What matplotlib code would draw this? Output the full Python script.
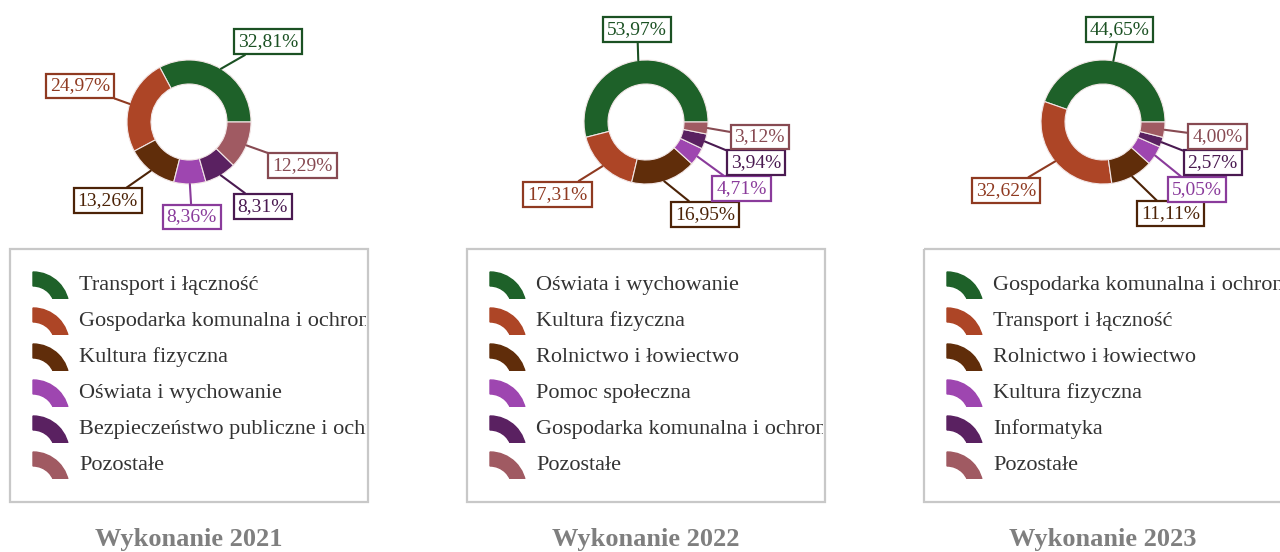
import matplotlib.pyplot as plt
from matplotlib.patches import Rectangle, Wedge
from matplotlib.transforms import Bbox, TransformedBbox
import numpy as np

plt.rcParams['font.family'] = ['Liberation Serif', 'DejaVu Serif']

# wydatki wg działów (udział %), kolejne lata
years = ['2021', '2022', '2023']

labels_2021 = ['Transport i łączność', 'Gospodarka komunalna i ochrona środowiska',
               'Kultura fizyczna', 'Oświata i wychowanie',
               'Bezpieczeństwo publiczne i ochrona przeciwpożarowa', 'Pozostałe']
values_2021 = [32.81, 24.97, 13.26, 8.36, 8.31, 12.29]

labels_2022 = ['Oświata i wychowanie', 'Kultura fizyczna', 'Rolnictwo i łowiectwo',
               'Pomoc społeczna', 'Gospodarka komunalna i ochrona środowiska', 'Pozostałe']
values_2022 = [53.97, 17.31, 16.95, 4.71, 3.94, 3.12]

labels_2023 = ['Gospodarka komunalna i ochrona środowiska', 'Transport i łączność',
               'Rolnictwo i łowiectwo', 'Kultura fizyczna', 'Informatyka', 'Pozostałe']
values_2023 = [44.65, 32.62, 11.11, 5.05, 2.57, 4.00]

colors = ['#1e6129', '#ad4526', '#602d0a', '#9e46b0', '#5a2161', '#a05a62']
dark = ['#1b5123', '#8f3a21', '#4c2307', '#8a3b9b', '#4a1a51', '#874a52']

# przesunięcia etykiet (px) względem zewnętrznej krawędzi wycinka
offsets = [
    [(47, 27), (-50, 18), (-43, -30), (2, -33), (42, -31), (56, -20)],
    [(-1, 31), (-45, -28), (41, -33), (44, -32), (51, -21), (52, -9)],
    [(6, 31), (-49, -29), (38, -37), (42, -34), (51, -20), (53, -7)],
]

W, H = 1280, 552
fig = plt.figure(figsize=(W / 100, H / 100), dpi=100)

# warstwa pomocnicza w pikselach (y w dół)
bg = fig.add_axes([0, 0, 1, 1])
bg.set_xlim(0, W)
bg.set_ylim(H, 0)
bg.axis('off')

all_labels = [labels_2021, labels_2022, labels_2023]
all_values = [values_2021, values_2022, values_2023]

r_out, r_in = 62, 38
cy = 122
for k, (year, labs, vals) in enumerate(zip(years, all_labels, all_values)):
    cx = 189 + 457 * k

    ax = fig.add_axes([(cx - r_out) / W, 1 - (cy + r_out) / H, 2 * r_out / W, 2 * r_out / H])
    wedges, _ = ax.pie(vals, colors=colors, startangle=0, counterclock=True, radius=1,
                       wedgeprops=dict(width=(r_out - r_in) / r_out, edgecolor='#f2e6e6',
                                       linewidth=0.8))
    ax.set_xlim(-1, 1)
    ax.set_ylim(-1, 1)
    ax.axis('off')

    for i, w in enumerate(wedges):
        mid = np.deg2rad((w.theta1 + w.theta2) / 2)
        txt = f'{vals[i]:.2f}%'.replace('.', ',')
        ax.annotate(txt, xy=(np.cos(mid), np.sin(mid)), xytext=offsets[k][i],
                    textcoords='offset pixels', ha='center', va='center',
                    fontsize=14, color=dark[i], annotation_clip=False,
                    bbox=dict(boxstyle='square,pad=0.2', fc='white', ec=dark[i], lw=1.6),
                    arrowprops=dict(arrowstyle='-', color=dark[i], lw=1.5,
                                    shrinkA=0, shrinkB=0))

    # legenda
    left = cx - 179
    frame = Rectangle((left, 249), 358, 253, fill=False, ec='#c8c8c8', lw=1.6)
    bg.add_patch(frame)
    text_clip = TransformedBbox(Bbox.from_extents(left, 250, left + 356, 500), bg.transData)
    for i, name in enumerate(labs):
        yc = 308 + 36 * i
        icon = Wedge((left + 23, yc), 36, 270, 360, width=14, color=colors[i])
        bg.add_patch(icon)
        icon.set_clip_path(Rectangle((left, yc - 40), 60, 31, transform=bg.transData))
        t = bg.text(left + 69, 290 + 36 * i, name, fontsize=16, color='#333333',
                    va='baseline', ha='left', clip_on=True)
        t.set_clip_box(text_clip)

    bg.text(cx, 546, f'Wykonanie {year}', ha='center', va='baseline',
            fontsize=19, fontweight='bold', color='#7f7f7f')

fig.savefig('out.png', dpi=100)
